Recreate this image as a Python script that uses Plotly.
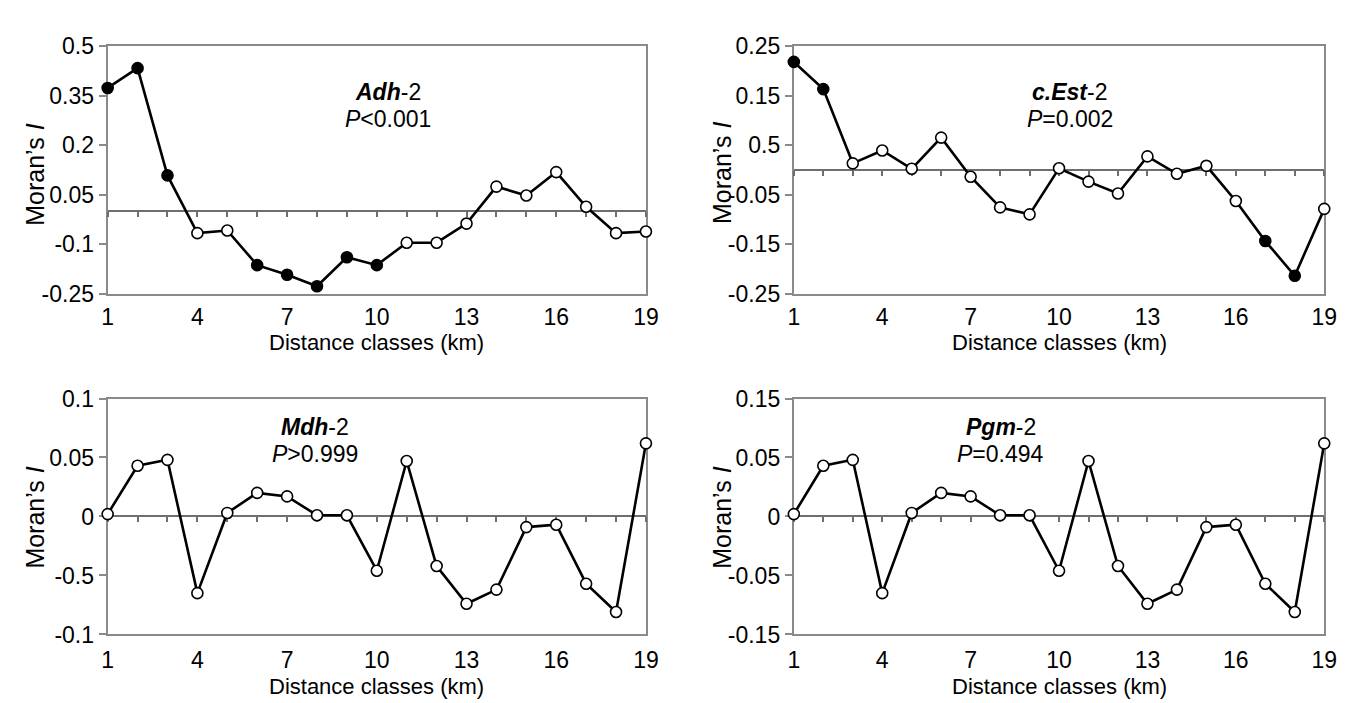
import plotly.graph_objects as go

# ---------------- data ----------------
distance = list(range(1, 20))
xtick_vals = [1, 4, 7, 10, 13, 16, 19]

adh2 = [0.373, 0.433, 0.108, -0.067, -0.059, -0.164, -0.193, -0.228, -0.140, -0.164,
        -0.096, -0.096, -0.038, 0.074, 0.047, 0.118, 0.013, -0.067, -0.062]
adh2_sig = [1, 1, 1, 0, 0, 1, 1, 1, 1, 1, 0, 0, 0, 0, 0, 0, 0, 0, 0]

cest2 = [0.218, 0.163, 0.013, 0.039, 0.002, 0.065, -0.014, -0.076, -0.090, 0.003,
         -0.024, -0.048, 0.027, -0.008, 0.008, -0.063, -0.144, -0.214, -0.079]
cest2_sig = [1, 1, 0, 0, 0, 0, 0, 0, 0, 0, 0, 0, 0, 0, 0, 0, 1, 1, 0]

mdh2 = [0.002, 0.043, 0.048, -0.065, 0.003, 0.020, 0.017, 0.001, 0.001, -0.046,
        0.047, -0.042, -0.074, -0.062, -0.009, -0.007, -0.057, -0.081, 0.062]
mdh2_sig = [0] * 19

pgm2 = [0.002, 0.043, 0.048, -0.065, 0.003, 0.020, 0.017, 0.001, 0.001, -0.046,
        0.047, -0.042, -0.074, -0.062, -0.009, -0.007, -0.057, -0.081, 0.062]
pgm2_sig = [0] * 19

adh2_ticks = [-0.25, -0.1, 0.05, 0.2, 0.35, 0.5]
adh2_ticktext = ["-0.25", "-0.1", "0.05", "0.2", "0.35", "0.5"]
cest2_ticks = [-0.25, -0.15, -0.05, 0.05, 0.15, 0.25]
cest2_ticktext = ["-0.25", "-0.15", "-0.05", "0.5", "0.15", "0.25"]
mdh2_ticks = [-0.1, -0.05, 0, 0.05, 0.1]
mdh2_ticktext = ["-0.1", "-0.5", "0", "0.05", "0.1"]
pgm2_ticks = [-0.1, -0.05, 0, 0.05, 0.1]
pgm2_ticktext = ["-0.15", "-0.05", "0", "0.05", "0.15"]

gene_names = ["Adh", "c.Est", "Mdh", "Pgm"]
p_texts = ["<i>P</i>&lt;0.001", "<i>P</i>=0.002", "<i>P</i>&gt;0.999", "<i>P</i>=0.494"]

# ---------------- layout geometry ----------------
W, H = 1346, 703
FONT = "Liberation Sans, Arial, Helvetica, sans-serif"
GRAY = "#8a8a8a"
ZGRAY = "#6e6e6e"

xdom_left = [95 / W, 641 / W]
xdom_right = [791 / W, 1329 / W]
ydom_top = [1 - 283 / H, 1 - 26 / H]
ydom_bot = [1 - 637 / H, 1 - 392 / H]

panels = [
    dict(y=adh2, sig=adh2_sig, rng=[-0.25, 0.5], tv=adh2_ticks, tt=adh2_ticktext,
         xd=xdom_left, yd=ydom_top, gx=0.52, gy=0.813, py=0.705, mor_x=21, mor_y=160, xl_y=334, standoff=2),
    dict(y=cest2, sig=cest2_sig, rng=[-0.25, 0.25], tv=cest2_ticks, tt=cest2_ticktext,
         xd=xdom_right, yd=ydom_top, gx=0.52, gy=0.813, py=0.705, mor_x=718, mor_y=158, xl_y=334, standoff=2),
    dict(y=mdh2, sig=mdh2_sig, rng=[-0.1, 0.1], tv=mdh2_ticks, tt=mdh2_ticktext,
         xd=xdom_left, yd=ydom_bot, gx=0.385, gy=0.878, py=0.765, mor_x=21, mor_y=516, xl_y=691, standoff=4),
    dict(y=pgm2, sig=pgm2_sig, rng=[-0.1, 0.1], tv=pgm2_ticks, tt=pgm2_ticktext,
         xd=xdom_right, yd=ydom_bot, gx=0.39, gy=0.878, py=0.765, mor_x=718, mor_y=516, xl_y=691, standoff=4),
]

TICK_SIZE = 23
ANN_SIZE = 23
XTITLE_SIZE = 22
YTITLE_SIZE = 25

fig = go.Figure()
layout = dict(
    width=W, height=H, margin=dict(l=0, r=0, t=0, b=0),
    paper_bgcolor="white", plot_bgcolor="white", showlegend=False,
    font=dict(family=FONT, color="black", size=TICK_SIZE),
)
annotations = []

for i, p in enumerate(panels):
    n = i + 1
    xa = "x" if n == 1 else f"x{n}"
    ya = "y" if n == 1 else f"y{n}"
    xkey = "xaxis" if n == 1 else f"xaxis{n}"
    ykey = "yaxis" if n == 1 else f"yaxis{n}"
    zn = n + 4  # zero-line axis id
    za = f"x{zn}"
    zkey = f"xaxis{zn}"

    layout[xkey] = dict(domain=p["xd"], anchor=ya, range=[1, 19], showgrid=False, zeroline=False,
                        showline=True, mirror=True, linecolor=GRAY, linewidth=2, layer="below traces",
                        tickvals=xtick_vals, ticks="", ticklabelstandoff=p["standoff"],
                        tickfont=dict(size=TICK_SIZE, family=FONT))
    layout[ykey] = dict(domain=p["yd"], anchor=xa, range=p["rng"], showgrid=False, zeroline=False,
                        showline=True, mirror=True, linecolor=GRAY, linewidth=2, layer="below traces",
                        tickvals=p["tv"], ticktext=p["tt"], ticks="outside", ticklen=7,
                        tickcolor=GRAY, tickwidth=1.5, tickfont=dict(size=TICK_SIZE, family=FONT))
    # zero line with downward ticks at every distance class
    zero_frac = (0 - p["rng"][0]) / (p["rng"][1] - p["rng"][0])
    zpos = p["yd"][0] + zero_frac * (p["yd"][1] - p["yd"][0])
    layout[zkey] = dict(overlaying=xa, anchor="free", position=zpos, domain=p["xd"], range=[1, 19],
                        showgrid=False, zeroline=False, showline=True, linecolor=ZGRAY, linewidth=2,
                        ticks="outside", ticklen=5, tickwidth=1.5, tickcolor=ZGRAY, layer="below traces",
                        tick0=1, dtick=1, showticklabels=False, side="bottom")

    # invisible trace registering the framed base subplot
    fig.add_trace(go.Scatter(x=distance, y=p["y"], xaxis=xa, yaxis=ya, mode="markers",
                             marker=dict(opacity=0), hoverinfo="skip"))

    fills = ["black" if s else "white" for s in p["sig"]]
    fig.add_trace(go.Scatter(
        x=distance, y=p["y"], xaxis=za, yaxis=ya, mode="lines+markers", cliponaxis=False,
        line=dict(color="black", width=2.6),
        marker=dict(size=11, color=fills, line=dict(color="black", width=1.6)),
        hoverinfo="x+y",
    ))

    annotations.append(dict(xref=f"{xa} domain", yref=f"{ya} domain", x=p["gx"], y=p["gy"],
                            text=f"<b><i>{gene_names[i]}</i></b>-2", showarrow=False,
                            font=dict(size=ANN_SIZE, family=FONT), xanchor="center", yanchor="middle"))
    annotations.append(dict(xref=f"{xa} domain", yref=f"{ya} domain", x=p["gx"], y=p["py"],
                            text=p_texts[i], showarrow=False,
                            font=dict(size=ANN_SIZE, family=FONT), xanchor="center", yanchor="middle"))
    annotations.append(dict(xref="paper", yref="paper", x=p["mor_x"] / W, y=1 - p["mor_y"] / H,
                            text="Moran’s <i>I</i>", textangle=-90, showarrow=False,
                            font=dict(size=YTITLE_SIZE, family=FONT), xanchor="center", yanchor="middle"))
    annotations.append(dict(xref="paper", yref="paper", x=(p["xd"][0] + p["xd"][1]) / 2,
                            y=1 - p["xl_y"] / H, text="Distance classes (km)", showarrow=False,
                            font=dict(size=XTITLE_SIZE, family=FONT), xanchor="center", yanchor="middle"))

layout["annotations"] = annotations
fig.update_layout(**layout)
fig.write_html("out.html")
